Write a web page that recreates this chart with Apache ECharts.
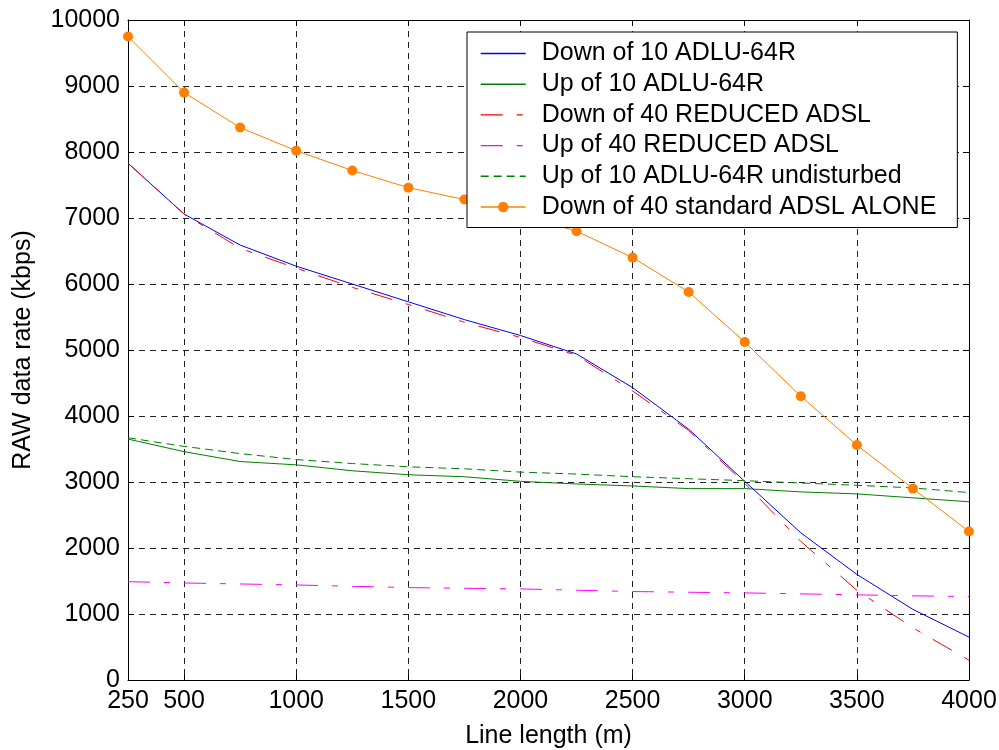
<!DOCTYPE html>
<html>
<head>
<meta charset="utf-8">
<script src="https://cdn.jsdelivr.net/npm/echarts@6/dist/echarts.min.js"></script>
<style>html,body{margin:0;padding:0;background:#fff}#c{width:999px;height:750px}</style>
</head>
<body>
<div id="c"></div>
<script>
var lengths = [250,500,750,1000,1250,1500,1750,2000,2250,2500,2750,3000,3250,3500,3750,4000];
var downAdlu = [7830,7060,6590,6270,6000,5730,5460,5220,4940,4430,3800,3010,2230,1600,1070,650];
var upAdlu = [3650,3460,3310,3260,3170,3110,3080,3010,2970,2940,2900,2900,2850,2820,2760,2700];
var downReduced = [7830,7060,6540,6240,5950,5690,5420,5190,4920,4380,3780,2980,2100,1360,790,300];
var upReduced = [1490,1470,1455,1440,1420,1400,1390,1380,1360,1340,1330,1320,1305,1290,1275,1265];
var upUndisturbed = [3670,3540,3430,3340,3280,3230,3200,3150,3120,3080,3050,3020,2985,2950,2910,2840];
var downStandard = [9750,8900,8370,8020,7720,7460,7280,7050,6800,6400,5880,5120,4300,3560,2900,2250];
var xTicks = [250,500,1000,1500,2000,2500,3000,3500,4000];
var seriesNames = ['Down of 10 ADLU-64R','Up of 10 ADLU-64R','Down of 40 REDUCED ADSL','Up of 40 REDUCED ADSL','Up of 10 ADLU-64R undisturbed','Down of 40 standard ADSL ALONE'];

var colors = ['#0000ff','#008000','#ff0000','#ff00ff','#008000','#ff8000'];
var dashes = ['solid','solid',[22,14,6,14],[22,14,6,14],[8,5],'solid'];

function pairs(arr){ return lengths.map(function(x,i){ return [x, arr[i]]; }); }
function plain(v){ return String(v); }

var font = 'Liberation Sans, Arial, sans-serif';
var FS = 25;
var chart = echarts.init(document.getElementById('c'), null, {renderer:'canvas'});
var gridLine = {show:true, lineStyle:{color:'#222', width:1, type:[6,5]}};
function lineSeries(i, data, extra){
  var s = {name:seriesNames[i], type:'line', data:pairs(data), xAxisIndex:0, yAxisIndex:0,
    symbol:'none', showSymbol:false, animation:false,
    lineStyle:{color:colors[i], width:1, type:dashes[i]}, itemStyle:{color:colors[i]}};
  if (extra) for (var k in extra) s[k]=extra[k];
  return s;
}
var hidden = 'rgba(0,0,0,0)';
var legendData = seriesNames.map(function(n, i){
  var item = {name:n, lineStyle:{color:colors[i], width:1.4, type:dashes[i]}};
  if (i !== 5) item.itemStyle = {color:hidden, borderColor:hidden, borderWidth:0};
  return item;
});
chart.setOption({
  animation:false,
  backgroundColor:'#fff',
  grid:{left:128, right:30, top:20, bottom:70, show:false, outerBoundsMode:'none', containLabel:false},
  legend:{
    orient:'vertical', left:467, top:32,
    backgroundColor:'#fff', borderColor:'#000', borderWidth:1,
    padding:[9,21,8,13], itemGap:5.7, itemWidth:45, itemHeight:13,
    textStyle:{fontFamily:font, fontSize:FS, color:'#000', lineHeight:25, padding:[0,0,0,11]},
    data:legendData
  },
  xAxis:[{
    type:'value', min:250, max:4000, position:'bottom',
    name:'Line length (m)', nameLocation:'middle', nameGap:44,
    nameTextStyle:{fontFamily:font, fontSize:FS, color:'#000'},
    axisLine:{show:true, onZero:false, lineStyle:{color:'#000', width:1}},
    axisTick:{show:true, inside:true, length:6, customValues:xTicks, lineStyle:{color:'#000'}},
    axisLabel:{customValues:xTicks, formatter:plain, fontFamily:font, fontSize:FS, color:'#000', margin:9},
    splitLine:gridLine
  },{
    type:'value', min:250, max:4000, position:'top',
    axisLine:{show:true, onZero:false, lineStyle:{color:'#000', width:1}},
    axisTick:{show:true, inside:true, length:6, customValues:xTicks, lineStyle:{color:'#000'}},
    axisLabel:{show:false}, splitLine:{show:false}
  }],
  yAxis:[{
    type:'value', min:0, max:10000, interval:1000, position:'left',
    name:'RAW data rate (kbps)', nameLocation:'middle', nameGap:92,
    nameTextStyle:{fontFamily:font, fontSize:FS, color:'#000'},
    axisLine:{show:true, onZero:false, lineStyle:{color:'#000', width:1}},
    axisTick:{show:true, inside:true, length:6, lineStyle:{color:'#000'}},
    axisLabel:{formatter:plain, fontFamily:font, fontSize:FS, color:'#000', margin:8},
    splitLine:gridLine
  },{
    type:'value', min:0, max:10000, interval:1000, position:'right',
    axisLine:{show:true, onZero:false, lineStyle:{color:'#000', width:1}},
    axisTick:{show:true, inside:true, length:6, lineStyle:{color:'#000'}},
    axisLabel:{show:false}, splitLine:{show:false}
  }],
  series:[
    lineSeries(0, downAdlu),
    lineSeries(1, upAdlu),
    lineSeries(2, downReduced),
    lineSeries(3, upReduced),
    lineSeries(4, upUndisturbed),
    lineSeries(5, downStandard, {symbol:'circle', showSymbol:true, symbolSize:10})
  ]
});
</script>
</body>
</html>
